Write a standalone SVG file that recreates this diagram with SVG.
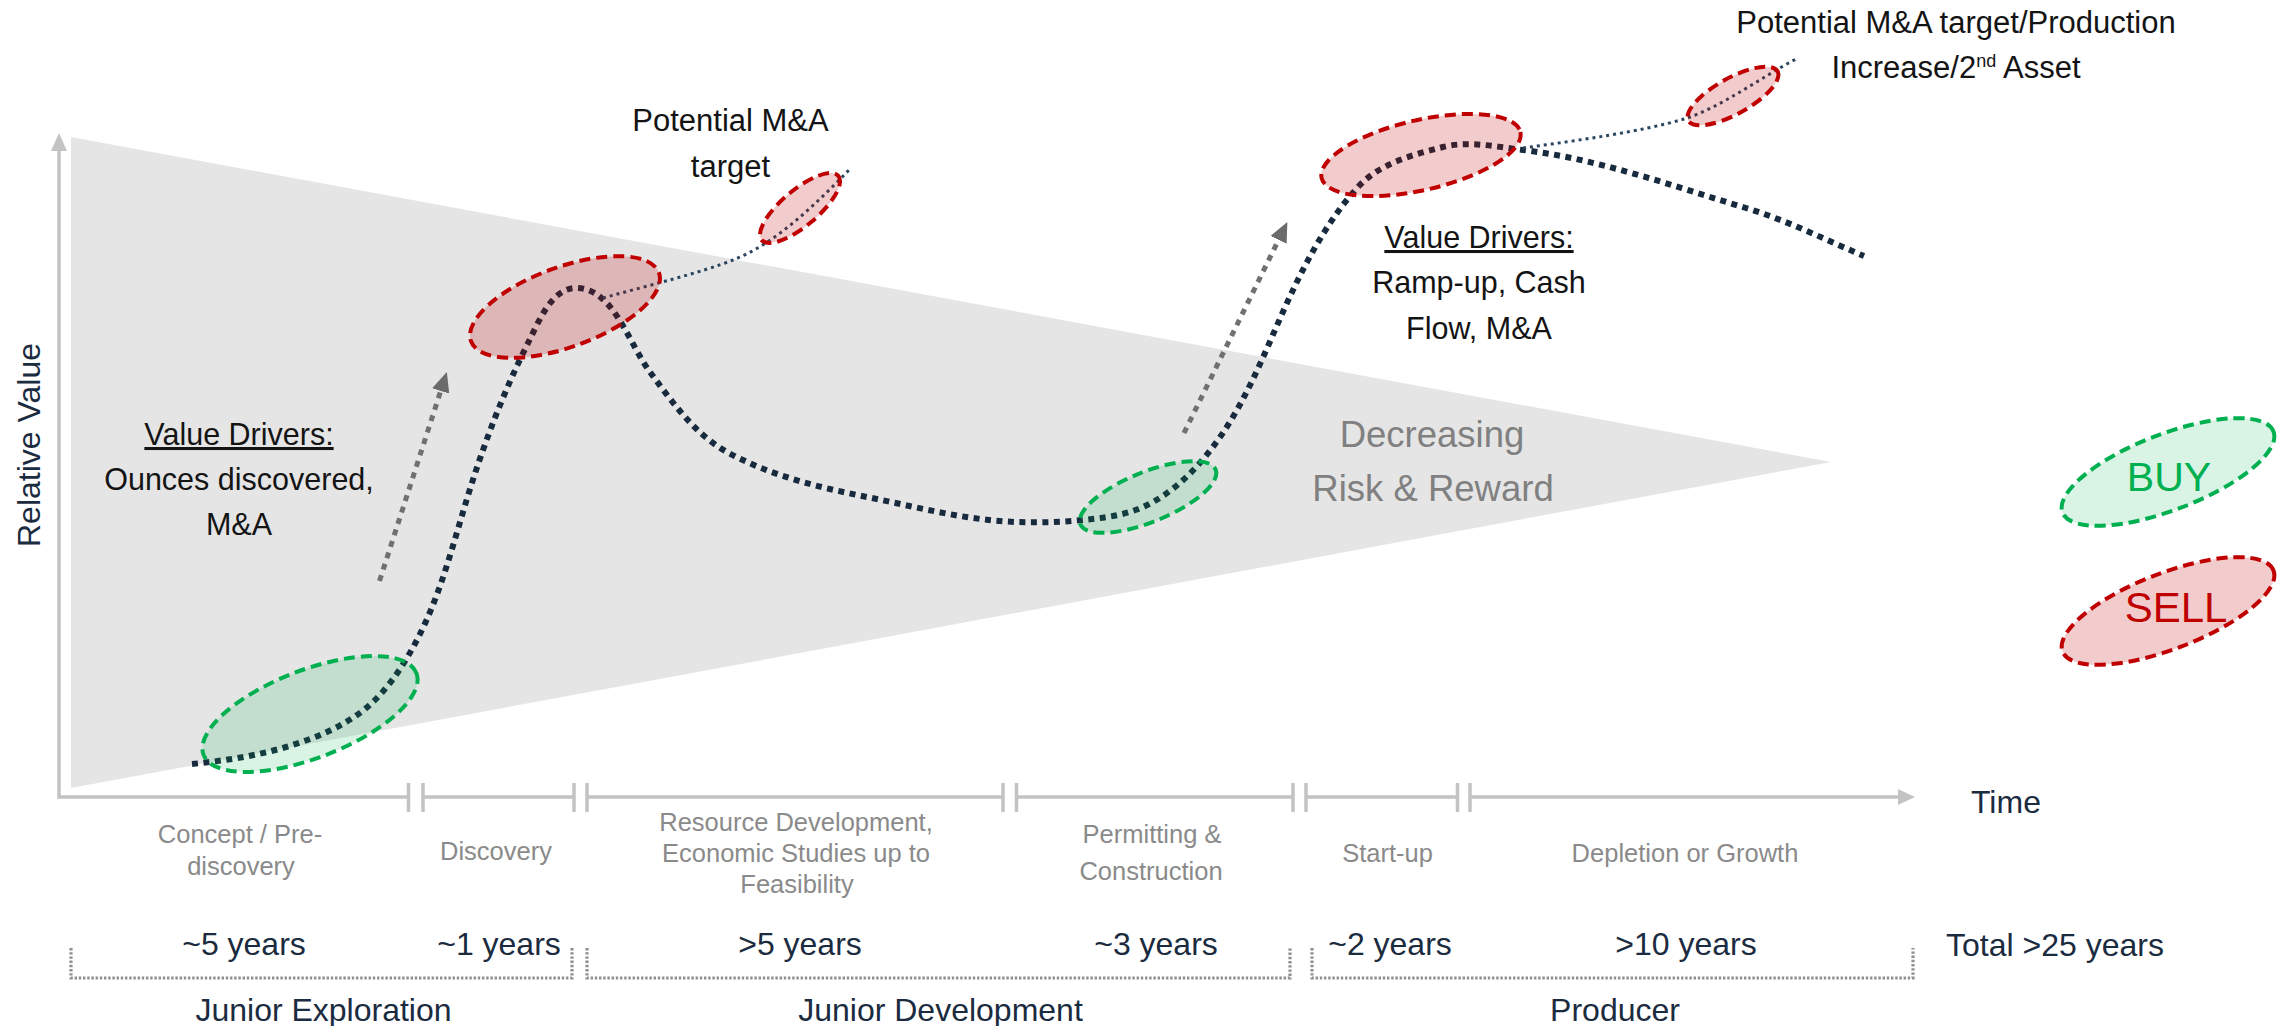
<svg xmlns="http://www.w3.org/2000/svg" width="2295" height="1026" viewBox="0 0 2295 1026">
  <style>
    text { font-family: "Liberation Sans", Arial, sans-serif; }
    .dark { fill: #141414; font-size: 31px; }
    .drv { fill: #141414; font-size: 30.5px; }
    .navy { fill: #1b2b40; font-size: 32px; }
    .phase { fill: #8a8a8a; font-size: 25.5px; }
    .risk { fill: #808080; font-size: 36.5px; }
    .axis { fill: none; stroke: #c3c3c3; stroke-width: 3.5; }
    .axis-head { fill: #c3c3c3; }
    .bracket { fill: none; stroke: #8f8f8f; stroke-width: 3.2; stroke-dasharray: 2.4 1.8; }
    .curve { fill: none; stroke: #182a3d; stroke-width: 6; stroke-dasharray: 6 5.5; }
    .branch { fill: none; stroke: #2a465f; stroke-width: 3; stroke-dasharray: 3 4; }
    .growth { fill: none; stroke: #707070; stroke-width: 5; stroke-dasharray: 6 6; }
    .sell { fill: rgba(192,0,0,0.2); stroke: #c00000; stroke-width: 4; stroke-dasharray: 11 6; }
    .buy { fill: rgba(0,176,80,0.15); stroke: #00b050; stroke-width: 4; stroke-dasharray: 11 6; }
  </style>
  <defs>
    <marker id="head-gray" viewBox="0 0 20 18" markerWidth="20" markerHeight="18" refX="1" refY="9" orient="auto" markerUnits="userSpaceOnUse">
      <path d="M0,0 L20,9 L0,18 Z" fill="#6b6b6b"/>
    </marker>
  </defs>

  <!-- decreasing risk & reward wedge -->
  <g id="risk-wedge">
    <polygon points="71,137 1831,462 71,788" fill="#e5e5e5"/>
  </g>

  <!-- axes with broken time line -->
  <g id="axes">
    <path class="axis" d="M59,150 V797 H408.5 M423,797 H574 M587,797 H1003 M1016.5,797 H1293 M1306,797 H1457.5 M1470,797 H1900"/>
    <path class="axis" d="M408.5,783V812 M423,783V812 M574,783V812 M587,783V812 M1003,783V812 M1016.5,783V812 M1293,783V812 M1306,783V812 M1457.5,783V812 M1470,783V812"/>
    <polygon class="axis-head" points="59,133 51,151 67,151"/>
    <polygon class="axis-head" points="1915,797 1898,789 1898,805"/>
    <text class="navy" transform="translate(39.5,445) rotate(-90)" text-anchor="middle">Relative Value</text>
    <text class="navy" x="1971" y="813">Time</text>
  </g>

  <!-- value curve, M&A branches and growth arrows -->
  <g id="connectors">
    <path id="value-curve" class="curve" d="M192,764 C223.7,760.8 255.5,756.1 286,747 C318.1,737.4 351.3,723.7 375,700 C393.8,681.2 408.1,657.8 420,634 C440.8,592.3 452.5,546.6 466,502 C482.5,447.5 502.6,393.9 528,343 C538.9,321.3 551.7,288 576,288 C613.3,288 627.8,342 650,372 C672,401.7 694.6,434.2 727,452 C769.9,475.6 819,487.4 867,497 C916.7,506.9 966.3,520.5 1017,522 C1039,522.7 1061.1,522.2 1083,520 C1103.4,518 1124.3,515.4 1143,507 C1173.6,493.3 1198.5,467.3 1218,440 C1250.5,394.5 1269,340.5 1293,290 C1310.5,253.3 1330.7,217 1358,187 C1379.1,163.8 1412.6,154.6 1443,147 C1468.9,140.5 1496.5,146.8 1523,150 C1599.3,159.1 1672.4,186 1746,208 C1786.7,220.2 1824.8,239.6 1864,256"/>
    <path id="branch-junior" class="branch" d="M603,298 C650,285 700,273 733,260 C775,244 815,205 850,169"/>
    <path id="branch-producer" class="branch" d="M1523,148 C1580,140 1640,132 1684,119 C1720,108 1760,78 1796,59"/>
    <line id="growth-discovery" class="growth" x1="379.5" y1="581" x2="441" y2="390" marker-end="url(#head-gray)"/>
    <line id="growth-construction" class="growth" x1="1184" y1="433" x2="1279" y2="239" marker-end="url(#head-gray)"/>
  </g>

  <!-- buy / sell zones on the curve -->
  <g id="zone-buy-concept">
    <ellipse class="buy" cx="310" cy="714" rx="114" ry="44" transform="rotate(-21 310 714)"/>
  </g>
  <g id="zone-sell-discovery">
    <ellipse class="sell" cx="565" cy="307" rx="100" ry="40" transform="rotate(-20 565 307)"/>
  </g>
  <g id="zone-sell-junior-target">
    <ellipse class="sell" cx="800" cy="208" rx="50" ry="18" transform="rotate(-40 800 208)"/>
  </g>
  <g id="zone-buy-permitting">
    <ellipse class="buy" cx="1148" cy="497" rx="73" ry="25" transform="rotate(-22 1148 497)"/>
  </g>
  <g id="zone-sell-startup">
    <ellipse class="sell" cx="1421" cy="155" rx="102" ry="35" transform="rotate(-13 1421 155)"/>
  </g>
  <g id="zone-sell-producer-target">
    <ellipse class="sell" cx="1733" cy="96" rx="51" ry="18" transform="rotate(-29 1733 96)"/>
  </g>

  <!-- annotations -->
  <g id="note-junior-target">
    <text class="dark" x="730.5" y="131" text-anchor="middle">Potential M&amp;A</text>
    <text class="dark" x="730.5" y="177" text-anchor="middle">target</text>
  </g>
  <g id="note-producer-target">
    <text class="dark" x="1956" y="33" text-anchor="middle">Potential M&amp;A target/Production</text>
    <text class="dark" x="1956" y="78" text-anchor="middle">Increase/2<tspan font-size="18" dy="-11">nd</tspan><tspan dy="11"> Asset</tspan></text>
  </g>
  <g id="note-drivers-exploration">
    <text class="drv" x="239" y="445" text-anchor="middle" text-decoration="underline">Value Drivers:</text>
    <text class="drv" x="239" y="490" text-anchor="middle">Ounces discovered,</text>
    <text class="drv" x="239" y="535" text-anchor="middle">M&amp;A</text>
  </g>
  <g id="note-drivers-producer">
    <text class="drv" x="1479" y="248" text-anchor="middle" text-decoration="underline">Value Drivers:</text>
    <text class="drv" x="1479" y="293" text-anchor="middle">Ramp-up, Cash</text>
    <text class="drv" x="1479" y="339" text-anchor="middle">Flow, M&amp;A</text>
  </g>
  <g id="note-risk">
    <text class="risk" x="1432" y="447" text-anchor="middle">Decreasing</text>
    <text class="risk" x="1433" y="501" text-anchor="middle">Risk &amp; Reward</text>
  </g>

  <!-- legend -->
  <g id="legend-buy">
    <ellipse class="buy" cx="2168" cy="472" rx="113" ry="38" transform="rotate(-21 2168 472)"/>
    <text x="2169" y="491" text-anchor="middle" font-size="41" fill="#00b050">BUY</text>
  </g>
  <g id="legend-sell">
    <ellipse class="sell" cx="2168" cy="611" rx="113" ry="38" transform="rotate(-21 2168 611)"/>
    <text x="2176" y="622" text-anchor="middle" font-size="42" fill="#c00000">SELL</text>
  </g>

  <!-- stage names under the time axis -->
  <g id="stages">
    <text class="phase" x="240" y="843" text-anchor="middle">Concept / Pre-</text>
    <text class="phase" x="241" y="875" text-anchor="middle">discovery</text>
    <text class="phase" x="496" y="860" text-anchor="middle">Discovery</text>
    <text class="phase" x="796" y="831" text-anchor="middle">Resource Development,</text>
    <text class="phase" x="796" y="862" text-anchor="middle">Economic Studies up to</text>
    <text class="phase" x="797" y="893" text-anchor="middle">Feasibility</text>
    <text class="phase" x="1152" y="843" text-anchor="middle">Permitting &amp;</text>
    <text class="phase" x="1151" y="880" text-anchor="middle">Construction</text>
    <text class="phase" x="1387.5" y="862" text-anchor="middle">Start-up</text>
    <text class="phase" x="1685" y="862" text-anchor="middle">Depletion or Growth</text>
  </g>

  <!-- durations -->
  <g id="durations">
    <text class="navy" x="244" y="955" text-anchor="middle">~5 years</text>
    <text class="navy" x="499" y="955" text-anchor="middle">~1 years</text>
    <text class="navy" x="800" y="955" text-anchor="middle">&gt;5 years</text>
    <text class="navy" x="1156" y="955" text-anchor="middle">~3 years</text>
    <text class="navy" x="1390" y="955" text-anchor="middle">~2 years</text>
    <text class="navy" x="1686" y="955" text-anchor="middle">&gt;10 years</text>
    <text class="navy" x="1946" y="956">Total &gt;25 years</text>
  </g>

  <!-- company type brackets -->
  <g id="group-junior-exploration">
    <path class="bracket" d="M71,948 V978 H572 V948"/>
    <text class="navy" x="323.5" y="1021" text-anchor="middle">Junior Exploration</text>
  </g>
  <g id="group-junior-development">
    <path class="bracket" d="M587,948 V978 H1290 V948"/>
    <text class="navy" x="940.5" y="1021" text-anchor="middle">Junior Development</text>
  </g>
  <g id="group-producer">
    <path class="bracket" d="M1312,948 V978 H1913 V948"/>
    <text class="navy" x="1615" y="1021" text-anchor="middle">Producer</text>
  </g>
</svg>
